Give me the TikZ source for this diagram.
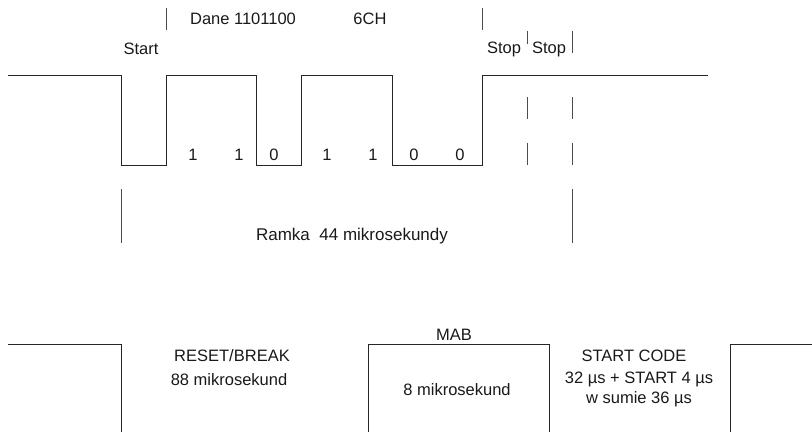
\documentclass[tikz,border=0pt]{standalone}
\usepackage{fontspec}
\setmainfont{Liberation Sans}
\begin{document}
\begin{tikzpicture}[x=1pt,y=-1pt,
  wave/.style={draw=black!85,line width=1pt},
  mark line/.style={draw=black!70,line width=0.9pt},
  lbl/.style={inner sep=0pt,font=\fontsize{16.5}{19}\selectfont,text=black!90},
  lbl2/.style={lbl,align=center,font=\fontsize{16.5}{20}\selectfont}]
\useasboundingbox (0,0) rectangle (812,432);
% top waveform
\draw[wave] (8,75) -- (121,75) -- (121,165) -- (166,165) -- (166,75) -- (256,75) -- (256,165)
  -- (301,165) -- (301,75) -- (392,75) -- (392,165) -- (482,165) -- (482,75) -- (708,75);
% ticks
\draw[mark line] (166,8) -- (166,30);
\draw[mark line] (482,8) -- (482,30);
\draw[mark line] (527,31) -- (527,44);
\draw[mark line] (572,31) -- (572,53);
\draw[mark line] (527,97) -- (527,119) (527,143) -- (527,165);
\draw[mark line] (572,97) -- (572,119) (572,143) -- (572,165);
\draw[mark line] (121,189) -- (121,243);
\draw[mark line] (572,189) -- (572,243);
% labels
\node[lbl] (start) at (141,49) {Start};
\node[lbl] (dane) at (243,19) {Dane 1101100};
\node[lbl] (hex) at (370,19) {6CH};
\node[lbl] (stop1) at (504,49) {Stop};
\node[lbl] (stop2) at (549,49) {Stop};
\node[lbl] (b1) at (193,155) {1};
\node[lbl] (b2) at (239,155) {1};
\node[lbl] (b3) at (274,155) {0};
\node[lbl] (b4) at (327,155) {1};
\node[lbl] (b5) at (373,155) {1};
\node[lbl] (b6) at (414,155) {0};
\node[lbl] (b7) at (460,155) {0};
\node[lbl,font=\fontsize{17}{19}\selectfont] (ramka) at (352,236) {Ramka\ \ 44 mikrosekundy};
% bottom waveform
\draw[wave] (8,344) -- (121,344) -- (121,432);
\draw[wave] (368,432) -- (368,344) -- (549,344) -- (549,432);
\draw[wave] (730,432) -- (730,344) -- (812,344);
\node[lbl] (reset) at (232,356) {RESET/BREAK};
\node[lbl] (r88) at (229,380) {88 mikrosekund};
\node[lbl] (mab) at (454,335) {MAB};
\node[lbl] (m8) at (457,390) {8 mikrosekund};
\node[lbl] (sc) at (634,356) {START CODE};
\node[lbl2] (sct) at (639,389) {32 µs + START 4 µs\\w sumie 36 µs};
\end{tikzpicture}
\end{document}
